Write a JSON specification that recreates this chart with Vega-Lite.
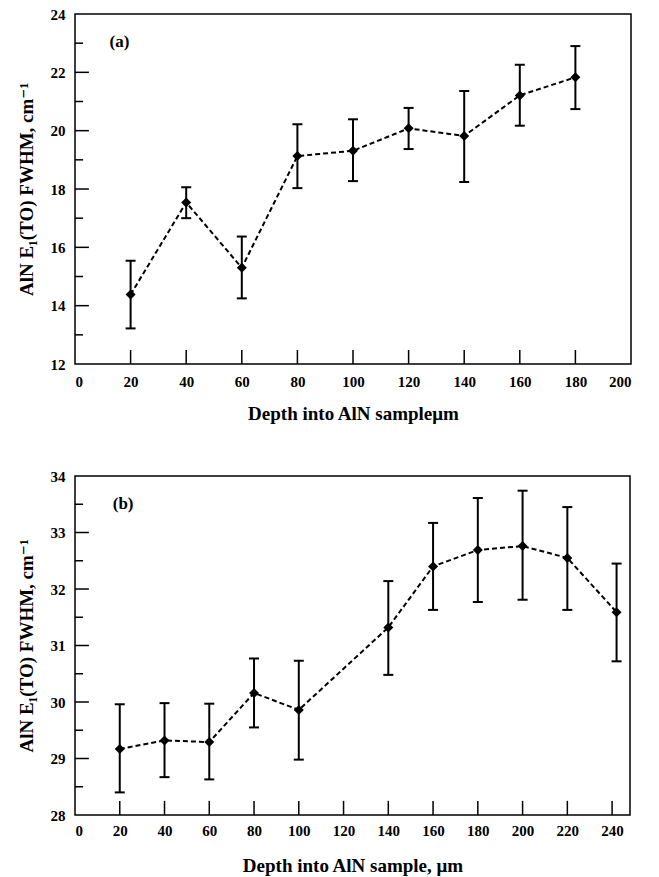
{
  "$schema": "https://vega.github.io/schema/vega-lite/v6.json",
  "background": "white",
  "padding": {"left": 16, "top": 6, "right": 8, "bottom": 2},
  "spacing": 44,
  "config": {
    "font": "Liberation Serif, Times New Roman, DejaVu Serif, serif",
    "view": {"stroke": "black", "strokeWidth": 1.5},
    "axis": {
      "grid": false, "domain": false, "ticks": false,
      "labelFont": "Liberation Serif, Times New Roman, DejaVu Serif, serif", "labelFontWeight": "bold", "labelFontSize": 15, "labelColor": "black",
      "titleFont": "Liberation Serif, Times New Roman, DejaVu Serif, serif", "titleFontWeight": "bold", "titleFontSize": 19, "titleColor": "black"
    }
  },
  "datasets": {
    "a": [
      {"depth": 20, "fwhm": 14.38, "lo": 13.22, "hi": 15.54},
      {"depth": 40, "fwhm": 17.54, "lo": 17.0, "hi": 18.06},
      {"depth": 60, "fwhm": 15.30, "lo": 14.25, "hi": 16.37},
      {"depth": 80, "fwhm": 19.13, "lo": 18.03, "hi": 20.22},
      {"depth": 100, "fwhm": 19.31, "lo": 18.27, "hi": 20.39},
      {"depth": 120, "fwhm": 20.08, "lo": 19.37, "hi": 20.78},
      {"depth": 140, "fwhm": 19.82, "lo": 18.24, "hi": 21.36},
      {"depth": 160, "fwhm": 21.21, "lo": 20.17, "hi": 22.26},
      {"depth": 180, "fwhm": 21.83, "lo": 20.74, "hi": 22.90}
    ],
    "b": [
      {"depth": 20, "fwhm": 29.17, "lo": 28.40, "hi": 29.96},
      {"depth": 40, "fwhm": 29.32, "lo": 28.67, "hi": 29.98},
      {"depth": 60, "fwhm": 29.29, "lo": 28.63, "hi": 29.97},
      {"depth": 80, "fwhm": 30.16, "lo": 29.55, "hi": 30.77},
      {"depth": 100, "fwhm": 29.86, "lo": 28.98, "hi": 30.73},
      {"depth": 140, "fwhm": 31.32, "lo": 30.48, "hi": 32.14},
      {"depth": 160, "fwhm": 32.40, "lo": 31.63, "hi": 33.17},
      {"depth": 180, "fwhm": 32.69, "lo": 31.77, "hi": 33.61},
      {"depth": 200, "fwhm": 32.76, "lo": 31.81, "hi": 33.74},
      {"depth": 220, "fwhm": 32.55, "lo": 31.63, "hi": 33.45},
      {"depth": 242, "fwhm": 31.59, "lo": 30.72, "hi": 32.45}
    ],
    "labA": [{"x": 16, "y": 23.05, "label": "(a)"}],
    "labB": [{"x": 21.5, "y": 33.5, "label": "(b)"}],
    "yMajA": [{"v": 14}, {"v": 16}, {"v": 18}, {"v": 20}, {"v": 22}],
    "yMinA": [{"v": 13}, {"v": 15}, {"v": 17}, {"v": 19}, {"v": 21}, {"v": 23}],
    "xTickA": [{"v": 20}, {"v": 40}, {"v": 60}, {"v": 80}, {"v": 100}, {"v": 120}, {"v": 140}, {"v": 160}, {"v": 180}],
    "yMajB": [{"v": 29}, {"v": 30}, {"v": 31}, {"v": 32}, {"v": 33}],
    "yMinB": [{"v": 28.5}, {"v": 29.5}, {"v": 30.5}, {"v": 31.5}, {"v": 32.5}, {"v": 33.5}],
    "xTickB": [{"v": 20}, {"v": 40}, {"v": 60}, {"v": 80}, {"v": 100}, {"v": 120}, {"v": 140}, {"v": 160}, {"v": 180}, {"v": 200}, {"v": 220}, {"v": 240}]
  },
  "vconcat": [
    {
      "width": 556,
      "height": 350,
      "layer": [
        {
          "data": {"name": "a"},
          "mark": {"type": "line", "color": "black", "strokeDash": [5, 3], "strokeWidth": 2},
          "encoding": {
            "x": {
              "field": "depth", "type": "quantitative",
              "scale": {"domain": [0, 200], "nice": false, "zero": false},
              "axis": {
                "values": [0, 20, 40, 60, 80, 100, 120, 140, 160, 180, 200],
                "labelPadding": 10, "titlePadding": 15,
                "title": "Depth into AlN sampleμm"
              }
            },
            "y": {
              "field": "fwhm", "type": "quantitative",
              "scale": {"domain": [12, 24], "nice": false, "zero": false},
              "axis": {
                "values": [12, 14, 16, 18, 20, 22, 24],
                "format": "d",
                "labelPadding": 10, "titlePadding": 14,
                "title": "AlN E₁(TO) FWHM, cm⁻¹"
              }
            }
          }
        },
        {
          "data": {"name": "yMajA"},
          "mark": {"type": "rule", "color": "black", "strokeWidth": 1.5},
          "encoding": {"y": {"field": "v", "type": "quantitative"}, "x": {"datum": 0}, "x2": {"datum": 5}}
        },
        {
          "data": {"name": "yMinA"},
          "mark": {"type": "rule", "color": "black", "strokeWidth": 1.5},
          "encoding": {"y": {"field": "v", "type": "quantitative"}, "x": {"datum": 0}, "x2": {"datum": 2.9}}
        },
        {
          "data": {"name": "xTickA"},
          "mark": {"type": "rule", "color": "black", "strokeWidth": 1.5},
          "encoding": {"x": {"field": "v", "type": "quantitative"}, "y": {"datum": 12}, "y2": {"datum": 12.48}}
        },
        {
          "data": {"name": "a"},
          "mark": {"type": "rule", "color": "black", "strokeWidth": 2},
          "encoding": {"x": {"field": "depth", "type": "quantitative"}, "y": {"field": "lo", "type": "quantitative"}, "y2": {"field": "hi"}}
        },
        {
          "data": {"name": "a"},
          "mark": {"type": "tick", "orient": "horizontal", "color": "black", "size": 10, "thickness": 2, "opacity": 1},
          "encoding": {"x": {"field": "depth", "type": "quantitative"}, "y": {"field": "lo", "type": "quantitative"}}
        },
        {
          "data": {"name": "a"},
          "mark": {"type": "tick", "orient": "horizontal", "color": "black", "size": 10, "thickness": 2, "opacity": 1},
          "encoding": {"x": {"field": "depth", "type": "quantitative"}, "y": {"field": "hi", "type": "quantitative"}}
        },
        {
          "data": {"name": "a"},
          "mark": {"type": "point", "shape": "diamond", "filled": true, "color": "black", "size": 100, "opacity": 1},
          "encoding": {"x": {"field": "depth", "type": "quantitative"}, "y": {"field": "fwhm", "type": "quantitative"}}
        },
        {
          "data": {"name": "labA"},
          "mark": {"type": "text", "font": "Liberation Serif, Times New Roman, DejaVu Serif, serif", "fontWeight": "bold", "fontSize": 17, "color": "black"},
          "encoding": {
            "x": {"field": "x", "type": "quantitative"},
            "y": {"field": "y", "type": "quantitative"},
            "text": {"field": "label"}
          }
        }
      ]
    },
    {
      "width": 555,
      "height": 339,
      "layer": [
        {
          "data": {"name": "b"},
          "mark": {"type": "line", "color": "black", "strokeDash": [5, 3], "strokeWidth": 2},
          "encoding": {
            "x": {
              "field": "depth", "type": "quantitative",
              "scale": {"domain": [0, 248], "nice": false, "zero": false},
              "axis": {
                "values": [0, 20, 40, 60, 80, 100, 120, 140, 160, 180, 200, 220, 240],
                "labelPadding": 8, "titlePadding": 18,
                "title": "Depth into AlN sample, μm"
              }
            },
            "y": {
              "field": "fwhm", "type": "quantitative",
              "scale": {"domain": [28, 34], "nice": false, "zero": false},
              "axis": {
                "values": [28, 29, 30, 31, 32, 33, 34],
                "format": "d",
                "labelPadding": 10, "titlePadding": 14,
                "title": "AlN E₁(TO) FWHM, cm⁻¹"
              }
            }
          }
        },
        {
          "data": {"name": "yMajB"},
          "mark": {"type": "rule", "color": "black", "strokeWidth": 1.5},
          "encoding": {"y": {"field": "v", "type": "quantitative"}, "x": {"datum": 0}, "x2": {"datum": 6.2}}
        },
        {
          "data": {"name": "yMinB"},
          "mark": {"type": "rule", "color": "black", "strokeWidth": 1.5},
          "encoding": {"y": {"field": "v", "type": "quantitative"}, "x": {"datum": 0}, "x2": {"datum": 3.6}}
        },
        {
          "data": {"name": "xTickB"},
          "mark": {"type": "rule", "color": "black", "strokeWidth": 1.5},
          "encoding": {"x": {"field": "v", "type": "quantitative"}, "y": {"datum": 28}, "y2": {"datum": 28.25}}
        },
        {
          "data": {"name": "b"},
          "mark": {"type": "rule", "color": "black", "strokeWidth": 2},
          "encoding": {"x": {"field": "depth", "type": "quantitative"}, "y": {"field": "lo", "type": "quantitative"}, "y2": {"field": "hi"}}
        },
        {
          "data": {"name": "b"},
          "mark": {"type": "tick", "orient": "horizontal", "color": "black", "size": 10, "thickness": 2, "opacity": 1},
          "encoding": {"x": {"field": "depth", "type": "quantitative"}, "y": {"field": "lo", "type": "quantitative"}}
        },
        {
          "data": {"name": "b"},
          "mark": {"type": "tick", "orient": "horizontal", "color": "black", "size": 10, "thickness": 2, "opacity": 1},
          "encoding": {"x": {"field": "depth", "type": "quantitative"}, "y": {"field": "hi", "type": "quantitative"}}
        },
        {
          "data": {"name": "b"},
          "mark": {"type": "point", "shape": "diamond", "filled": true, "color": "black", "size": 100, "opacity": 1},
          "encoding": {"x": {"field": "depth", "type": "quantitative"}, "y": {"field": "fwhm", "type": "quantitative"}}
        },
        {
          "data": {"name": "labB"},
          "mark": {"type": "text", "font": "Liberation Serif, Times New Roman, DejaVu Serif, serif", "fontWeight": "bold", "fontSize": 17, "color": "black"},
          "encoding": {
            "x": {"field": "x", "type": "quantitative"},
            "y": {"field": "y", "type": "quantitative"},
            "text": {"field": "label"}
          }
        }
      ]
    }
  ]
}
